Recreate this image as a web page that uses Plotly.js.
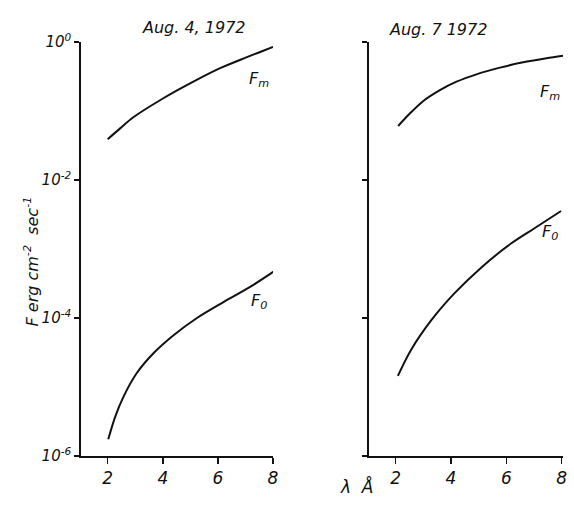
<!DOCTYPE html>
<html>
<head>
<meta charset="utf-8">
<script src="https://cdn.plot.ly/plotly-3.0.1.min.js"></script>
<style>html,body{margin:0;padding:0;background:#fff;}#chart{width:574px;height:517px;}</style>
</head>
<body>
<div id="chart"></div>
<script>
// Aug. 4, 1972 panel
const aug4_x_Fm = [2.0, 2.45, 2.93, 4.02, 4.99, 6.08, 7.05, 8.0];
const aug4_Fm   = [0.039, 0.056, 0.081, 0.153, 0.251, 0.417, 0.603, 0.851];
const aug4_x_F0 = [2.02, 2.27, 2.57, 3.05, 3.66, 4.39, 5.24, 6.20, 7.17, 8.02];
const aug4_F0   = [1.75e-6, 3.7e-6, 7.2e-6, 1.58e-5, 3.08e-5, 5.62e-5, 1.0e-4, 1.70e-4, 2.82e-4, 4.69e-4];
// Aug. 7 1972 panel
const aug7_x_Fm = [2.09, 2.52, 3.00, 3.60, 4.20, 4.92, 5.77, 6.61, 7.45, 8.05];
const aug7_Fm   = [0.0607, 0.0927, 0.140, 0.201, 0.266, 0.340, 0.425, 0.508, 0.581, 0.632];
const aug7_x_F0 = [2.08, 2.56, 3.29, 4.13, 5.09, 6.17, 7.02, 7.98];
const aug7_F0   = [1.45e-5, 3.47e-5, 9.3e-5, 2.29e-4, 5.37e-4, 1.20e-3, 2.0e-3, 3.55e-3];

const xTicks = [2, 4, 6, 8];
const yTickVals = [1, 1e-2, 1e-4, 1e-6];
const yTickText = ['10<sup>0</sup>', '10<sup>-2</sup>', '10<sup>-4</sup>', '10<sup>-6</sup>'];
const panelTitles = ['Aug. 4, 1972', 'Aug. 7 1972'];
const yTitle = 'F erg cm<sup>-2</sup>  sec<sup>-1</sup>';
const xTitle = 'λ  Å';

const W = 574, H = 517;
const px = v => v / W;
const py = v => 1 - v / H;
const FONT = {family: 'DejaVu Sans', style: 'italic', color: '#111', size: 16};
const f = s => Object.assign({}, FONT, {size: s});

const lineStyle = {color: '#111', width: 2, shape: 'spline', smoothing: 0.9};
const traces = [
  {x: aug4_x_Fm, y: aug4_Fm, xaxis: 'x', yaxis: 'y', mode: 'lines', line: lineStyle},
  {x: aug4_x_F0, y: aug4_F0, xaxis: 'x', yaxis: 'y', mode: 'lines', line: lineStyle},
  {x: aug7_x_Fm, y: aug7_Fm, xaxis: 'x2', yaxis: 'y2', mode: 'lines', line: lineStyle},
  {x: aug7_x_F0, y: aug7_F0, xaxis: 'x2', yaxis: 'y2', mode: 'lines', line: lineStyle}
];

const xBase = {
  tickmode: 'array', tickvals: xTicks, ticks: 'outside', ticklen: 6, tickwidth: 1.5,
  tickcolor: '#111', showline: true, linecolor: '#111', linewidth: 1.8,
  showgrid: false, zeroline: false, tickfont: f(17)
};
const yBase = {
  type: 'log', range: [-6, 0], tickmode: 'array', tickvals: yTickVals,
  ticks: 'outside', ticklen: 5, tickwidth: 1.5, tickcolor: '#111',
  showline: true, linecolor: '#111', linewidth: 1.8, showgrid: false, zeroline: false,
  tickfont: f(15), domain: [py(456), py(42)]
};

const layout = {
  width: W, height: H, margin: {l: 0, r: 0, t: 0, b: 0},
  paper_bgcolor: '#fff', plot_bgcolor: '#fff', showlegend: false,
  xaxis: Object.assign({}, xBase, {domain: [px(81), px(273)], range: [1.03, 8.0], anchor: 'y'}),
  yaxis: Object.assign({}, yBase, {anchor: 'x', ticktext: yTickText}),
  xaxis2: Object.assign({}, xBase, {domain: [px(369), px(563)], range: [1.036, 8.05], anchor: 'y2'}),
  yaxis2: Object.assign({}, yBase, {anchor: 'x2', showticklabels: false}),
  annotations: [
    {text: panelTitles[0], x: px(193), y: py(16), xref: 'paper', yref: 'paper', showarrow: false, font: f(16)},
    {text: panelTitles[1], x: px(489), y: py(18), xref: 'paper', yref: 'paper', showarrow: false, font: f(16)},
    {text: yTitle, x: px(19), y: py(262), xref: 'paper', yref: 'paper', showarrow: false, textangle: -90, font: f(16)},
    {text: xTitle, x: px(357), y: py(499), xref: 'paper', yref: 'paper', showarrow: false, font: f(17)},
    {text: 'F<sub>m</sub>', x: px(259), y: py(67), xref: 'paper', yref: 'paper', showarrow: false, font: f(16)},
    {text: 'F<sub>0</sub>', x: px(259), y: py(301), xref: 'paper', yref: 'paper', showarrow: false, font: f(16)},
    {text: 'F<sub>m</sub>', x: px(562), y: py(80), xref: 'paper', yref: 'paper', showarrow: false, font: f(16)},
    {text: 'F<sub>0</sub>', x: px(560), y: py(233), xref: 'paper', yref: 'paper', showarrow: false, font: f(16)}
  ]
};

Plotly.newPlot('chart', traces, layout, {staticPlot: true, displayModeBar: false});
</script>
</body>
</html>
